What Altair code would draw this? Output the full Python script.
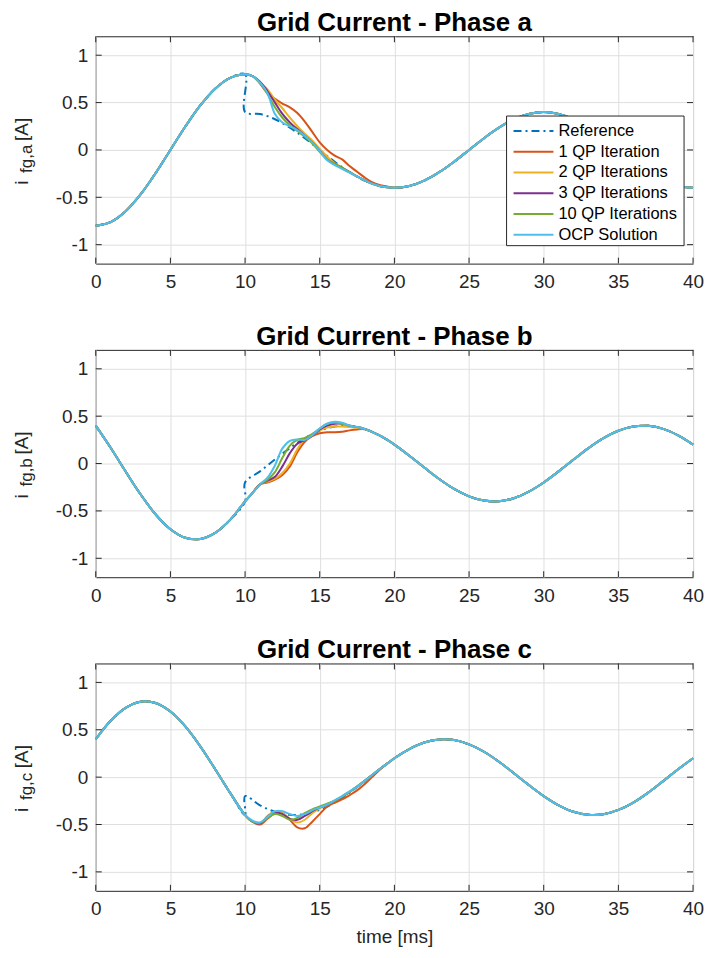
import altair as alt
import pandas as pd

SERIES = ["Reference", "1 QP Iteration", "2 QP Iterations", "3 QP Iterations",
          "10 QP Iterations", "OCP Solution"]
COLORS = ["#0072BD", "#D95319", "#EDB120", "#7E2F8E", "#77AC30", "#4DBEEE"]

X_TICKS = [0, 5, 10, 15, 20, 25, 30, 35, 40]
Y_TICKS = [-1, -0.5, 0, 0.5, 1]

# time grids (ms)
T_PRE = [0, 1, 2, 3, 4, 5, 6, 7, 8, 9, 10]
T_TR = [10.5, 11, 11.5, 12, 12.5, 13, 13.5, 14, 14.5, 15, 15.5, 16, 16.5,
        17, 17.5, 18, 18.5, 19, 19.5]
T_REF = [10, 11, 12, 13, 14, 15, 16, 17, 18, 19]
T_POST = [20, 21, 22, 23, 24, 25, 26, 27, 28, 29, 30, 31, 32, 33, 34, 35,
          36, 37, 38, 39, 40]

# common part before the step (0..10 ms)
PRE_A = [-0.8, -0.761, -0.647, -0.47, -0.247, 0.0, 0.247, 0.47, 0.647, 0.761, 0.8]
PRE_B = [0.4, 0.166, -0.084, -0.325, -0.535, -0.693, -0.783, -0.796, -0.731, -0.595, -0.4]
PRE_C = [0.4, 0.595, 0.731, 0.796, 0.783, 0.693, 0.535, 0.325, 0.084, -0.166, -0.4]

# common part after the transient (20..40 ms)
POST_A = [-0.4, -0.38, -0.324, -0.235, -0.124, 0.0, 0.124, 0.235, 0.324, 0.38, 0.4,
          0.38, 0.324, 0.235, 0.124, 0.0, -0.124, -0.235, -0.324, -0.38, -0.4]
POST_B = [0.2, 0.083, -0.042, -0.163, -0.268, -0.346, -0.391, -0.398, -0.366, -0.297, -0.2,
          -0.083, 0.042, 0.163, 0.268, 0.346, 0.391, 0.398, 0.366, 0.297, 0.2]
POST_C = [0.2, 0.297, 0.366, 0.398, 0.391, 0.346, 0.268, 0.163, 0.042, -0.083, -0.2,
          -0.297, -0.366, -0.398, -0.391, -0.346, -0.268, -0.163, -0.042, 0.083, 0.2]

# reference between 10 and 19 ms (after the step)
REF_A = [0.4, 0.38, 0.324, 0.235, 0.124, 0.0, -0.124, -0.235, -0.324, -0.38]
REF_B = [-0.2, -0.083, 0.042, 0.163, 0.268, 0.346, 0.391, 0.398, 0.366, 0.297]
REF_C = [-0.2, -0.297, -0.366, -0.398, -0.391, -0.346, -0.268, -0.163, -0.042, 0.083]

# transients 10.5..19.5 ms
TR_A_1QP = [0.78, 0.70, 0.60, 0.54, 0.49, 0.45, 0.39, 0.30, 0.19, 0.08, 0.00, -0.06, -0.10,
            -0.17, -0.23, -0.29, -0.34, -0.37, -0.385]
TR_A_2QP = [0.78, 0.71, 0.64, 0.53, 0.44, 0.34, 0.25, 0.17, 0.10, 0.01, -0.07, -0.14, -0.185,
            -0.235, -0.28, -0.32, -0.355, -0.38, -0.395]
TR_A_3QP = [0.78, 0.72, 0.62, 0.50, 0.38, 0.29, 0.22, 0.15, 0.08, -0.01, -0.10, -0.15, -0.19,
            -0.235, -0.28, -0.32, -0.355, -0.38, -0.395]
TR_A_10QP = [0.78, 0.71, 0.59, 0.45, 0.34, 0.26, 0.20, 0.14, 0.07, -0.02, -0.10, -0.15, -0.19,
             -0.235, -0.28, -0.32, -0.355, -0.38, -0.395]
TR_A_OCP = [0.78, 0.71, 0.60, 0.38, 0.29, 0.25, 0.21, 0.15, 0.08, -0.01, -0.11, -0.16, -0.20,
            -0.24, -0.28, -0.32, -0.355, -0.38, -0.395]

TR_B_1QP = [-0.31, -0.22, -0.20, -0.17, -0.12, -0.03, 0.12, 0.23, 0.29, 0.32, 0.33, 0.33, 0.335,
            0.35, 0.36, 0.362, 0.335, 0.297, 0.252]
TR_B_2QP = [-0.31, -0.22, -0.19, -0.16, -0.10, 0.00, 0.15, 0.26, 0.31, 0.35, 0.38, 0.39, 0.39,
            0.385, 0.375, 0.366, 0.335, 0.297, 0.252]
TR_B_3QP = [-0.31, -0.22, -0.18, -0.14, -0.03, 0.11, 0.21, 0.25, 0.30, 0.36, 0.40, 0.42, 0.42,
            0.40, 0.385, 0.366, 0.335, 0.297, 0.252]
TR_B_10QP = [-0.31, -0.22, -0.17, -0.09, 0.06, 0.19, 0.25, 0.27, 0.31, 0.37, 0.42, 0.43, 0.42,
             0.40, 0.385, 0.366, 0.335, 0.297, 0.252]
TR_B_OCP = [-0.31, -0.22, -0.15, -0.02, 0.16, 0.24, 0.255, 0.25, 0.30, 0.37, 0.42, 0.44, 0.43,
            0.40, 0.385, 0.366, 0.335, 0.297, 0.252]

TR_C_1QP = [-0.47, -0.50, -0.44, -0.38, -0.38, -0.45, -0.53, -0.54, -0.47, -0.39, -0.31, -0.27,
            -0.235, -0.19, -0.14, -0.075, 0.00, 0.075, 0.14]
TR_C_2QP = [-0.47, -0.49, -0.41, -0.36, -0.38, -0.44, -0.48, -0.45, -0.38, -0.33, -0.29, -0.25,
            -0.205, -0.155, -0.10, -0.04, 0.02, 0.083, 0.14]
TR_C_3QP = [-0.47, -0.49, -0.42, -0.37, -0.39, -0.44, -0.45, -0.41, -0.36, -0.32, -0.29, -0.25,
            -0.205, -0.155, -0.10, -0.04, 0.02, 0.083, 0.14]
TR_C_10QP = [-0.47, -0.48, -0.43, -0.39, -0.41, -0.45, -0.43, -0.38, -0.34, -0.31, -0.28, -0.25,
             -0.205, -0.155, -0.10, -0.04, 0.02, 0.083, 0.14]
TR_C_OCP = [-0.46, -0.48, -0.42, -0.36, -0.36, -0.39, -0.41, -0.39, -0.35, -0.32, -0.29, -0.245,
            -0.20, -0.15, -0.10, -0.04, 0.02, 0.083, 0.14]

PRE = {"a": PRE_A, "b": PRE_B, "c": PRE_C}
POST = {"a": POST_A, "b": POST_B, "c": POST_C}
REF = {"a": REF_A, "b": REF_B, "c": REF_C}
TR = {
    "a": [TR_A_1QP, TR_A_2QP, TR_A_3QP, TR_A_10QP, TR_A_OCP],
    "b": [TR_B_1QP, TR_B_2QP, TR_B_3QP, TR_B_10QP, TR_B_OCP],
    "c": [TR_C_1QP, TR_C_2QP, TR_C_3QP, TR_C_10QP, TR_C_OCP],
}

W, H = 599, 228
DASH_REF = [8, 4, 2, 4]
INK = "#262626"
FONT = "Liberation Sans"


def phase_frame(p):
    rows = []
    ts = T_PRE + T_REF + T_POST
    vs = PRE[p] + REF[p] + POST[p]
    for k, (t, v) in enumerate(zip(ts, vs)):
        rows.append({"t": t, "v": v, "series": SERIES[0], "ord": k})
    for j, tr in enumerate(TR[p]):
        ts = T_PRE + T_TR + T_POST
        vs = PRE[p] + tr + POST[p]
        for k, (t, v) in enumerate(zip(ts, vs)):
            rows.append({"t": t, "v": v, "series": SERIES[j + 1], "ord": k})
    return pd.DataFrame(rows)


def panel(p, with_legend, with_xtitle):
    df = phase_frame(p)
    x_enc = alt.X("t:Q", scale=alt.Scale(domain=[0, 40], nice=False, zero=False),
                  axis=alt.Axis(values=X_TICKS, title="time [ms]" if with_xtitle else None,
                                labelFlush=False, labelOverlap=False, labelPadding=9,
                                titlePadding=9))
    y_enc = alt.Y("v:Q", scale=alt.Scale(domain=[-1.2, 1.2], nice=False, zero=False),
                  axis=alt.Axis(values=Y_TICKS, title=None, labelFlush=False,
                                labelOverlap=False, labelPadding=8,
                                labelExpr="datum.value < 0 ? '-' + format(-datum.value, '~g') : format(datum.value, '~g')"))
    layers = []
    for i, s in enumerate(SERIES):
        mk = dict(color=COLORS[i], strokeWidth=2, interpolate="catmull-rom")
        if i == 0:
            mk["strokeDash"] = DASH_REF
        layers.append(
            alt.Chart(df).transform_filter(alt.datum.series == s)
            .mark_line(**mk).encode(x=x_enc, y=y_enc, order="ord:Q")
        )
    xt = pd.DataFrame({"t": X_TICKS})
    yt = pd.DataFrame({"v": Y_TICKS})
    layers.append(alt.Chart(xt).mark_rule(color=INK, strokeWidth=1).encode(
        x=x_enc, y=alt.value(H), y2=alt.value(H - 6)))
    layers.append(alt.Chart(xt).mark_rule(color=INK, strokeWidth=1).encode(
        x=x_enc, y=alt.value(0), y2=alt.value(6)))
    layers.append(alt.Chart(yt).mark_rule(color=INK, strokeWidth=1).encode(
        y=y_enc, x=alt.value(0), x2=alt.value(6)))
    layers.append(alt.Chart(yt).mark_rule(color=INK, strokeWidth=1).encode(
        y=y_enc, x=alt.value(W), x2=alt.value(W - 6)))

    one = pd.DataFrame({"k": [0]})
    # panel title
    layers.append(alt.Chart(one).mark_text(align="center", baseline="alphabetic",
                                           fontSize=26, fontWeight="bold", color="#000").encode(
        x=alt.value(W / 2), y=alt.value(-5), text=alt.value("Grid Current - Phase " + p)))
    # y-axis title with subscript
    layers.append(alt.Chart(one).mark_text(angle=270, align="left", baseline="alphabetic",
                                           fontSize=19, color=INK).encode(
        x=alt.value(-68), y=alt.value(149), text=alt.value("i")))
    layers.append(alt.Chart(one).mark_text(angle=270, align="left", baseline="alphabetic",
                                           fontSize=17, color=INK).encode(
        x=alt.value(-64), y=alt.value(137), text=alt.value("fg," + p)))
    layers.append(alt.Chart(one).mark_text(angle=270, align="left", baseline="alphabetic",
                                           fontSize=19, color=INK).encode(
        x=alt.value(-68), y=alt.value(105), text=alt.value("[A]")))

    if with_legend:
        lx0, ly0, lx1, ly1 = 412, 80, 590, 210
        layers.append(alt.Chart(one).mark_rect(fill="white", stroke=INK, strokeWidth=1).encode(
            x=alt.value(lx0), x2=alt.value(lx1), y=alt.value(ly0), y2=alt.value(ly1)))
        for i, s in enumerate(SERIES):
            yy = 95 + 20.8 * i
            mk = dict(color=COLORS[i], strokeWidth=2)
            if i == 0:
                mk["strokeDash"] = DASH_REF
            layers.append(alt.Chart(one).mark_rule(**mk).encode(
                x=alt.value(419), x2=alt.value(459), y=alt.value(yy)))
            layers.append(alt.Chart(one).mark_text(align="left", baseline="middle",
                                                   fontSize=16.5, color="#000").encode(
                x=alt.value(464), y=alt.value(yy), text=alt.value(s)))

    return alt.layer(*layers).properties(width=W, height=H)


chart = alt.vconcat(
    panel("a", True, False),
    panel("b", False, False),
    panel("c", False, True),
    spacing=30.5,
).properties(
    padding={"left": 4, "top": 0, "right": 0, "bottom": 0}
).configure(
    font=FONT
).configure_view(
    stroke=INK, strokeWidth=1
).configure_axis(
    grid=True, gridColor="#dfdfdf", gridWidth=1, ticks=False, domain=False,
    labelFontSize=19, labelColor=INK, labelFont=FONT, titleFont=FONT,
    titleFontSize=19, titleFontWeight="normal", titleColor=INK
)

chart.save("out.html", embed_options={"renderer": "svg", "actions": False})
